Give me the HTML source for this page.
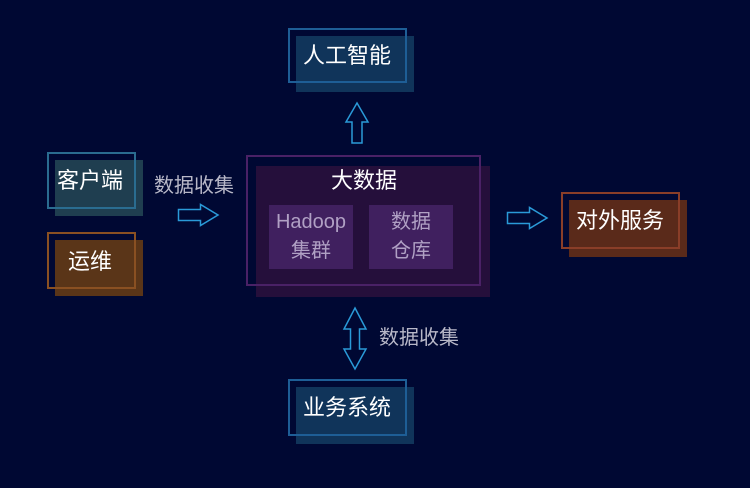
<!DOCTYPE html>
<html><head><meta charset="utf-8"><style>
body{margin:0;width:750px;height:488px;background:#000833;position:relative;overflow:hidden;font-family:"Liberation Sans","Noto Sans CJK SC",sans-serif;}
.a{position:absolute;box-sizing:border-box;}
.t{position:absolute;color:#fff;font-size:22px;line-height:26px;white-space:nowrap;}
.g{position:absolute;color:#b8b8c8;font-size:20px;line-height:24px;white-space:nowrap;}
</style></head><body>
<div class="a" style="left:55px;top:160px;width:88px;height:56px;background:#1f3e50"></div>
<div class="a" style="left:47px;top:152px;width:89px;height:57px;border:2px solid #2a6c90"></div>
<div class="t" style="left:57px;top:168px">客户端</div>
<div class="a" style="left:55px;top:240px;width:88px;height:56px;background:#5a3518"></div>
<div class="a" style="left:47px;top:232px;width:89px;height:57px;border:2px solid #8a5022"></div>
<div class="t" style="left:68px;top:249px">运维</div>
<div class="g" style="left:154px;top:174px">数据收集</div>
<div class="a" style="left:296px;top:36px;width:118px;height:56px;background:#10345a"></div>
<div class="a" style="left:288px;top:28px;width:119px;height:55px;border:2px solid #1e5e96"></div>
<div class="t" style="left:303px;top:43px">人工智能</div>
<div class="a" style="left:256px;top:166px;width:234px;height:131px;background:#250f3b"></div>
<div class="a" style="left:246px;top:155px;width:235px;height:131px;border:2px solid #4a2166"></div>
<div class="t" style="left:331px;top:168px">大数据</div>
<div class="a" style="left:269px;top:205px;width:84px;height:64px;background:#40205f"></div>
<div class="a" style="left:369px;top:205px;width:84px;height:64px;background:#40205f"></div>
<div class="g" style="left:269px;top:210px;width:84px;text-align:center;color:#b0a0c4">Hadoop</div>
<div class="g" style="left:269px;top:239px;width:84px;text-align:center;color:#b0a0c4">集群</div>
<div class="g" style="left:369px;top:210px;width:84px;text-align:center;color:#b0a0c4">数据</div>
<div class="g" style="left:369px;top:239px;width:84px;text-align:center;color:#b0a0c4">仓库</div>
<div class="a" style="left:569px;top:200px;width:118px;height:57px;background:#5a2a1a"></div>
<div class="a" style="left:561px;top:192px;width:119px;height:57px;border:2px solid #8a3e28"></div>
<div class="t" style="left:576px;top:208px">对外服务</div>
<div class="a" style="left:296px;top:387px;width:118px;height:57px;background:#10345a"></div>
<div class="a" style="left:288px;top:379px;width:119px;height:57px;border:2px solid #1e5e96"></div>
<div class="t" style="left:303px;top:395px">业务系统</div>
<div class="g" style="left:379px;top:326px">数据收集</div>
<svg class="a" style="left:0;top:0" width="750" height="488" fill="none" stroke="#2a9ad8" stroke-width="1.5">
<polygon points="178.5,209.5 200.5,209.5 200.5,204.5 218,215 200.5,225.5 200.5,220.5 178.5,220.5"/>
<polygon points="507.5,212.5 529.5,212.5 529.5,207.5 547,218 529.5,228.5 529.5,223.5 507.5,223.5"/>
<polygon points="357,103 368,122 362,122 362,143 352,143 352,122 346,122"/>
<polygon points="355,308 366,329 359.5,329 359.5,349 366,349 355,369 344,349 350.5,349 350.5,329 344,329"/>
</svg>
</body></html>
